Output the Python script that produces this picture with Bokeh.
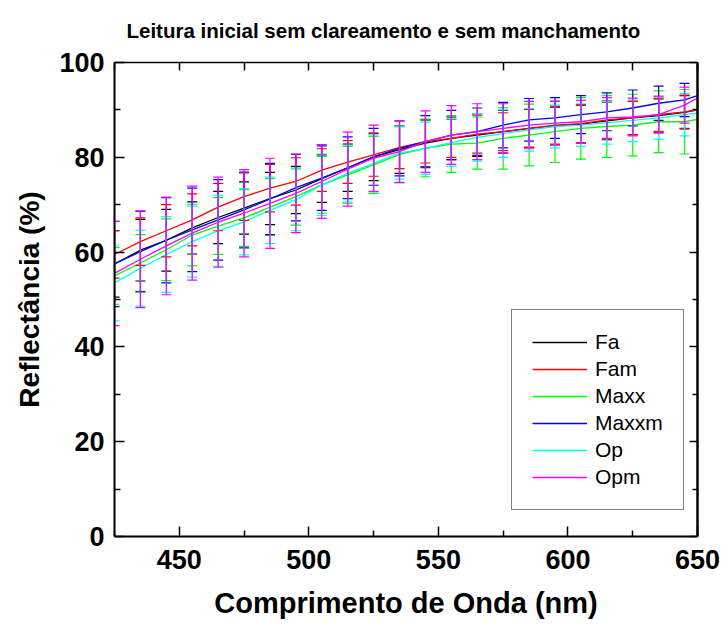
import numpy as np
from bokeh.plotting import figure
from bokeh.models import (ColumnDataSource, Whisker, TeeHead, FixedTicker, LinearAxis,
                          Range1d, Legend, LegendItem, Title)
from bokeh.embed import file_html
from bokeh.resources import INLINE

# ---------------- data ----------------
wavelength = [425, 435, 445, 455, 465, 475, 485, 495, 505, 515, 525, 535,
              545, 555, 565, 575, 585, 595, 605, 615, 625, 635, 645, 650]

series_names = ["Fa", "Fam", "Maxx", "Maxxm", "Op", "Opm"]
series_colors = ["#000000", "#ff0000", "#00ff00", "#0000ff", "#00ffff", "#ff00ff"]

fa = [57.5, 60.4, 62.5, 65.1, 67.3, 69.3, 71.3, 73.1, 75.5, 77.8, 80.1, 81.6,
      83.0, 84.0, 84.7, 85.4, 86.1, 86.6, 87.0, 87.7, 88.3, 88.8, 89.5, 90.0]
fam = [59.5, 62.2, 64.5, 66.8, 69.5, 71.7, 73.5, 74.9, 77.3, 79.0, 80.5, 82.1,
       83.3, 84.0, 84.9, 85.4, 86.1, 86.8, 87.1, 87.9, 88.3, 89.0, 89.6, 90.0]
maxx = [55.0, 57.7, 60.5, 63.6, 65.5, 67.2, 69.5, 71.7, 74.2, 76.3, 78.4, 80.6,
        81.9, 82.8, 83.0, 84.0, 84.7, 85.4, 86.1, 86.5, 86.8, 87.5, 87.5, 88.0]
maxxm = [57.5, 60.1, 62.5, 64.7, 66.8, 68.9, 71.2, 73.6, 75.6, 77.8, 80.1, 81.9,
         83.3, 84.7, 85.4, 86.8, 87.9, 88.3, 89.0, 89.6, 90.4, 91.4, 92.1, 93.0]
op = [53.5, 56.6, 59.5, 62.2, 64.5, 66.4, 68.8, 71.0, 74.2, 76.6, 78.7, 80.9,
      81.9, 83.1, 84.2, 85.0, 85.8, 86.5, 86.8, 87.3, 87.8, 88.3, 89.0, 89.3]
opm = [55.5, 58.5, 61.3, 64.0, 66.3, 68.2, 70.3, 72.4, 74.9, 77.5, 79.8, 81.2,
       83.3, 84.7, 85.4, 86.1, 86.8, 87.2, 87.5, 88.3, 88.5, 89.0, 91.0, 92.5]

# standard deviations at 425, 435, ..., 645 nm
fa_sd = [7, 6.5, 6.5, 5.5, 5.5, 5.5, 5.5, 5, 5, 5, 5, 5, 5, 4.5, 4.5, 4.5, 4, 4, 4, 4, 3.5, 3.5, 3.5]
fam_sd = [5, 5, 5.5, 5.5, 5, 5, 5, 5, 4.5, 4.5, 4.5, 4.5, 4.5, 4, 4, 4, 4, 4, 4, 4, 3.5, 3.5, 3.5]
maxx_sd = [6, 6, 6.5, 6.5, 6, 6, 6, 6, 6, 6, 6, 6, 6, 6, 5.5, 6.5, 6.5, 6.5, 6.5, 6.5, 6.5, 6.5, 6.8]
maxxm_sd = [9, 8.5, 9, 8.8, 8.5, 8, 7.5, 7, 6.8, 6.5, 6, 5.8, 5.5, 5.2, 5, 4.8, 4.5, 4.3, 4, 4, 3.8, 3.6, 3.5]
op_sd = [8, 8, 8, 7.5, 7.5, 7, 7, 6.5, 6.5, 6, 6, 5.5, 5.5, 5, 5, 5, 4.5, 4.5, 4.5, 4.5, 4.5, 4.5, 4.5]
opm_sd = [11, 10.2, 10.3, 9.9, 9.5, 9.2, 9.5, 8.3, 7.8, 7.8, 7, 6.5, 6.5, 6.2, 5.9, 5.2, 5, 4.6, 4.5, 4.3, 4, 3.9, 3.8]

x_major = [450, 500, 550, 600, 650]
x_minor = [425, 475, 525, 575, 625]
y_major = [0, 20, 40, 60, 80, 100]
y_minor = [10, 30, 50, 70, 90]

title_text = "Leitura inicial sem clareamento e sem manchamento"
x_label = "Comprimento de Onda (nm)"
y_label = "Reflectância (%)"

means = [fa, fam, maxx, maxxm, op, opm]
sds = [fa_sd, fam_sd, maxx_sd, maxxm_sd, op_sd, opm_sd]

FONT = "Liberation Sans"

p = figure(width=728, height=626, output_backend="svg", toolbar_location=None,
           x_range=Range1d(425, 650), y_range=Range1d(0, 100),
           min_border_left=114, min_border_right=31, min_border_top=62,
           min_border_bottom=90)
p.outline_line_color = None
p.xgrid.visible = False
p.ygrid.visible = False
p.background_fill_color = "white"
p.border_fill_color = "white"

def style_axis(ax, ticks, minor, major_len, minor_len, labels=True, lw=2):
    ax.ticker = FixedTicker(ticks=ticks, minor_ticks=minor)
    ax.axis_line_width = lw
    ax.axis_line_color = "black"
    ax.major_tick_in = major_len
    ax.major_tick_out = 0
    ax.minor_tick_in = minor_len
    ax.minor_tick_out = 0
    ax.major_tick_line_width = 1.5
    ax.minor_tick_line_width = 1.5
    ax.major_tick_line_color = "black"
    ax.minor_tick_line_color = "black"
    if labels:
        ax.major_label_text_font = FONT
        ax.major_label_text_font_style = "bold"
        ax.major_label_text_font_size = "27px"
        ax.major_label_text_color = "black"
    else:
        ax.major_label_text_font_size = "1px"
        ax.major_label_text_color = None
        ax.major_label_standoff = 0

xa = p.xaxis[0]
style_axis(xa, x_major, x_minor, 10, 6)
xa.major_label_standoff = 13
xa.axis_label = x_label
xa.axis_label_text_font = FONT
xa.axis_label_text_font_style = "bold"
xa.axis_label_text_font_size = "29px"
xa.axis_label_text_color = "black"
xa.axis_label_standoff = 15

ya = p.yaxis[0]
style_axis(ya, y_major, y_minor, 10, 6)
ya.major_label_standoff = 10

top = LinearAxis()
style_axis(top, x_major, x_minor, 8, 8, labels=False, lw=1.5)
p.add_layout(top, "above")
right = LinearAxis()
style_axis(right, y_major, y_minor, 8, 5, labels=False, lw=2.5)
p.add_layout(right, "right")

items = []
for name, color, m, s in zip(series_names, series_colors, means, sds):
    r = p.line(wavelength, m, line_color=color, line_width=1.3)
    base = wavelength[:len(s)]
    mm = np.array(m[:len(s)])
    ss = np.array(s)
    src = ColumnDataSource(dict(x=base, upper=mm + ss, lower=mm - ss))
    w = Whisker(source=src, base="x", upper="upper", lower="lower",
                line_color=color, line_width=1.2, level="glyph",
                upper_head=TeeHead(size=10, line_color=color, line_width=1.2),
                lower_head=TeeHead(size=10, line_color=color, line_width=1.2))
    p.add_layout(w)
    items.append(LegendItem(label=name, renderers=[r]))

legend = Legend(items=items, location=(397, 26), margin=0, padding=20,
                glyph_width=55, glyph_height=24, label_height=24, spacing=3,
                label_standoff=8, label_text_font=FONT, label_text_font_size="21px",
                label_text_color="black", border_line_color="black",
                border_line_width=1, background_fill_color="white",
                background_fill_alpha=1)
p.add_layout(legend)

t = Title(text=title_text, align="left", offset=12, standoff=37, vertical_align="top",
          text_font=FONT, text_font_style="bold", text_font_size="20.5px",
          text_color="black")
p.add_layout(t, "above")

yt = Title(text=y_label, align="center", offset=-19, standoff=23,
           text_font=FONT, text_font_style="bold", text_font_size="28px",
           text_color="black")
p.add_layout(yt, "left")

open("out.html", "w").write(file_html(p, INLINE))
